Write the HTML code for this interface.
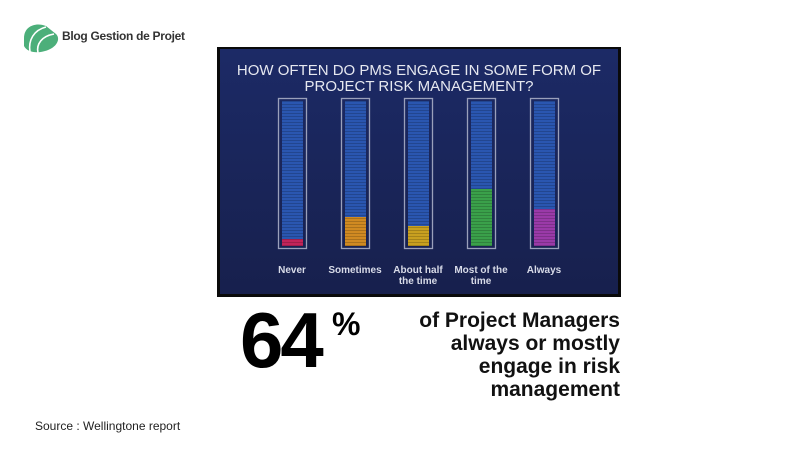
<!DOCTYPE html>
<html><head><meta charset="utf-8"><style>
body{margin:0;width:811px;height:456px;background:#fff;position:relative;overflow:hidden;font-family:"Liberation Sans",sans-serif}
.a{position:absolute}
</style></head><body>
<svg class="a" style="left:20px;top:22px" width="40" height="32" viewBox="0 0 40 32">
<path d="M4 16 C4 4 16 0 26 4 L36 12 C40 16 38 22 32 26 C22 32 8 32 4 24 Z" fill="#4caf7a"/>
<path d="M10 30 C8 18 14 8 26 5 M18 31 C16 22 22 14 34 12" stroke="#fff" stroke-width="1.6" fill="none"/>
</svg>
<div class="a" style="left:62px;top:29px;font-size:12px;font-weight:bold;color:#333;letter-spacing:-0.3px">Blog Gestion de Projet</div>

<svg class="a" style="left:0;top:0" width="811" height="456">
<defs><linearGradient id="bg" x1="0" y1="0" x2="0" y2="1"><stop offset="0" stop-color="#1c2a66"/><stop offset="1" stop-color="#17204d"/></linearGradient>
<pattern id="st" width="4" height="3" patternUnits="userSpaceOnUse"><rect y="2" width="4" height="1" fill="#000" opacity="0.18"/></pattern></defs>
<rect x="217" y="47" width="404" height="250" fill="#0a0a0a"/>
<rect x="220" y="49" width="398" height="245" fill="url(#bg)"/>
<text x="419" y="75" fill="#e6e8f0" font-size="15" text-anchor="middle">HOW OFTEN DO PMS ENGAGE IN SOME FORM OF</text>
<text x="419" y="91" fill="#e6e8f0" font-size="15" text-anchor="middle">PROJECT RISK MANAGEMENT?</text>
<g stroke="#9aa0bb" stroke-width="1.3" fill="none">
<rect x="278.5" y="98.5" width="28" height="150"/><rect x="341.5" y="98.5" width="28" height="150"/><rect x="404.5" y="98.5" width="28" height="150"/><rect x="467.5" y="98.5" width="28" height="150"/><rect x="530.5" y="98.5" width="28" height="150"/>
</g>
<g fill="#2a56b0">
<rect x="282" y="101" width="21" height="145"/><rect x="345" y="101" width="21" height="145"/><rect x="408" y="101" width="21" height="145"/><rect x="471" y="101" width="21" height="145"/><rect x="534" y="101" width="21" height="145"/>
</g>
<rect x="282" y="239" width="21" height="7" fill="#c2245a"/>
<rect x="345" y="217" width="21" height="29" fill="#d08a22"/>
<rect x="408" y="226" width="21" height="20" fill="#c8a020"/>
<rect x="471" y="189" width="21" height="57" fill="#3aa04a"/>
<rect x="534" y="209" width="21" height="37" fill="#9a3aa8"/>
<g fill="url(#st)"><rect x="282" y="101" width="21" height="145"/><rect x="345" y="101" width="21" height="145"/><rect x="408" y="101" width="21" height="145"/><rect x="471" y="101" width="21" height="145"/><rect x="534" y="101" width="21" height="145"/></g>
<g fill="#d8dbe8" font-size="10" font-weight="bold" text-anchor="middle">
<text x="292" y="273">Never</text><text x="355" y="273">Sometimes</text><text x="418" y="273">About half</text><text x="418" y="284">the time</text><text x="481" y="273">Most of the</text><text x="481" y="284">time</text><text x="544" y="273">Always</text>
</g>
</svg>

<div class="a" style="left:240px;top:301px;font-size:78px;font-weight:bold;color:#000;letter-spacing:-3px;line-height:1">64</div>
<div class="a" style="left:332px;top:308px;font-size:32px;font-weight:bold;color:#000;line-height:1">%</div>
<div class="a" style="right:191px;top:309px;font-size:21px;font-weight:bold;color:#111;text-align:right;line-height:23px">of Project Managers<br>always or mostly<br>engage in risk<br>management</div>
<div class="a" style="left:35px;top:419px;font-size:12px;color:#222">Source : Wellingtone report</div>
</body></html>
